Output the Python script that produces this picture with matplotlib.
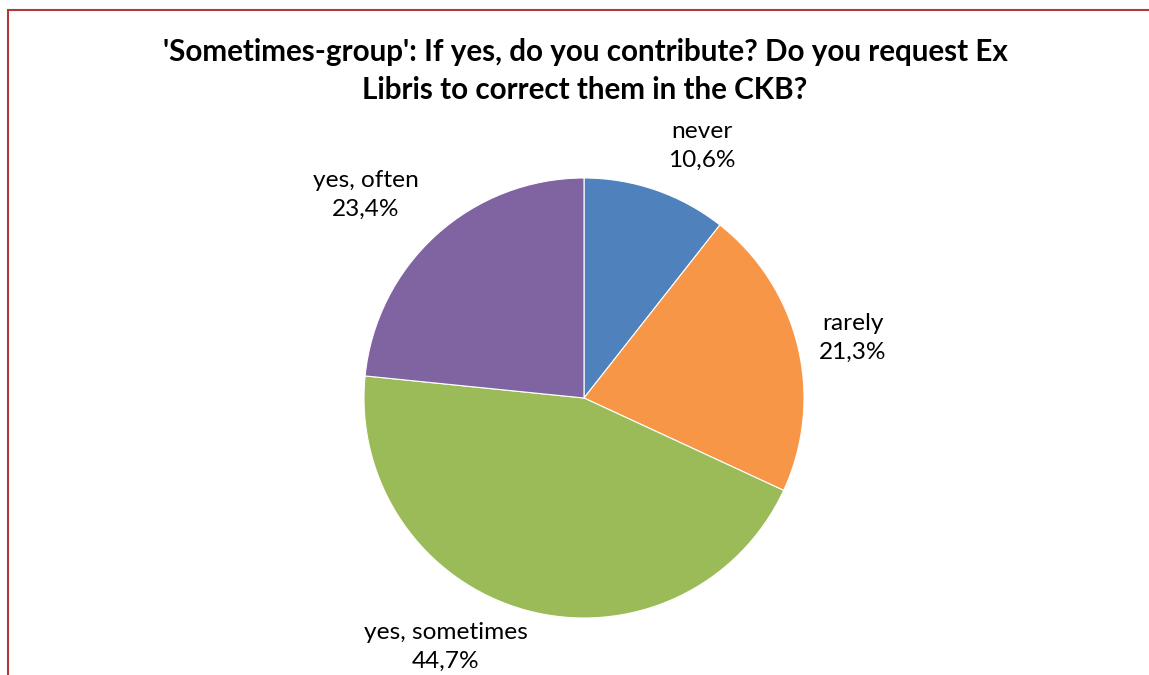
import numpy as np
import matplotlib.pyplot as plt
from matplotlib.patches import Rectangle

# answers to the follow-up question, share in %
categories = ["never", "rarely", "yes, sometimes", "yes, often"]
shares = [10.6, 21.3, 44.7, 23.4]
colors = ["#4F81BD", "#F79646", "#9BBB59", "#8064A2"]

# where each label sits, in pie-radius units from the centre
label_pos = [(0.536, 1.145), (1.223, 0.273), (-0.627, -1.132), (-0.991, 0.923)]

plt.rcParams['font.family'] = ['Lato', 'DejaVu Sans']

W, H = 1149, 675
fig = plt.figure(figsize=(W / 100, H / 100), dpi=100)

# dark red frame around the chart area (runs off right and bottom)
fig.patches.append(Rectangle((8 / W, -0.05), 1.2, 1 - 10 / H + 0.05,
                             transform=fig.transFigure, fill=False,
                             edgecolor="#B03A3A", linewidth=1.5))

fig.text(585 / W, 1 - 52 / H,
         "'Sometimes-group': If yes, do you contribute? Do you request Ex",
         ha="center", va="center", fontsize=21.3, fontweight="bold")
fig.text(585 / W, 1 - 90 / H, "Libris to correct them in the CKB?",
         ha="center", va="center", fontsize=21.3, fontweight="bold")

cx, cy, r = 584, 398, 220
ax = fig.add_axes([(cx - r) / W, (H - cy - r) / H, 2 * r / W, 2 * r / H])
ax.pie(shares, colors=colors, startangle=90, counterclock=False, radius=1,
       wedgeprops=dict(linewidth=0.8, edgecolor="white"))
ax.set_xlim(-1, 1)
ax.set_ylim(-1, 1)
ax.set_aspect("equal")
ax.axis("off")

for name, val, (lx, ly) in zip(categories, shares, label_pos):
    txt = name + "\n" + f"{val:.1f}".replace(".", ",") + "%"
    ax.text(lx, ly, txt, ha="center", va="center", fontsize=17.6,
            linespacing=1.45, clip_on=False)

fig.savefig("out.png", dpi=100)
